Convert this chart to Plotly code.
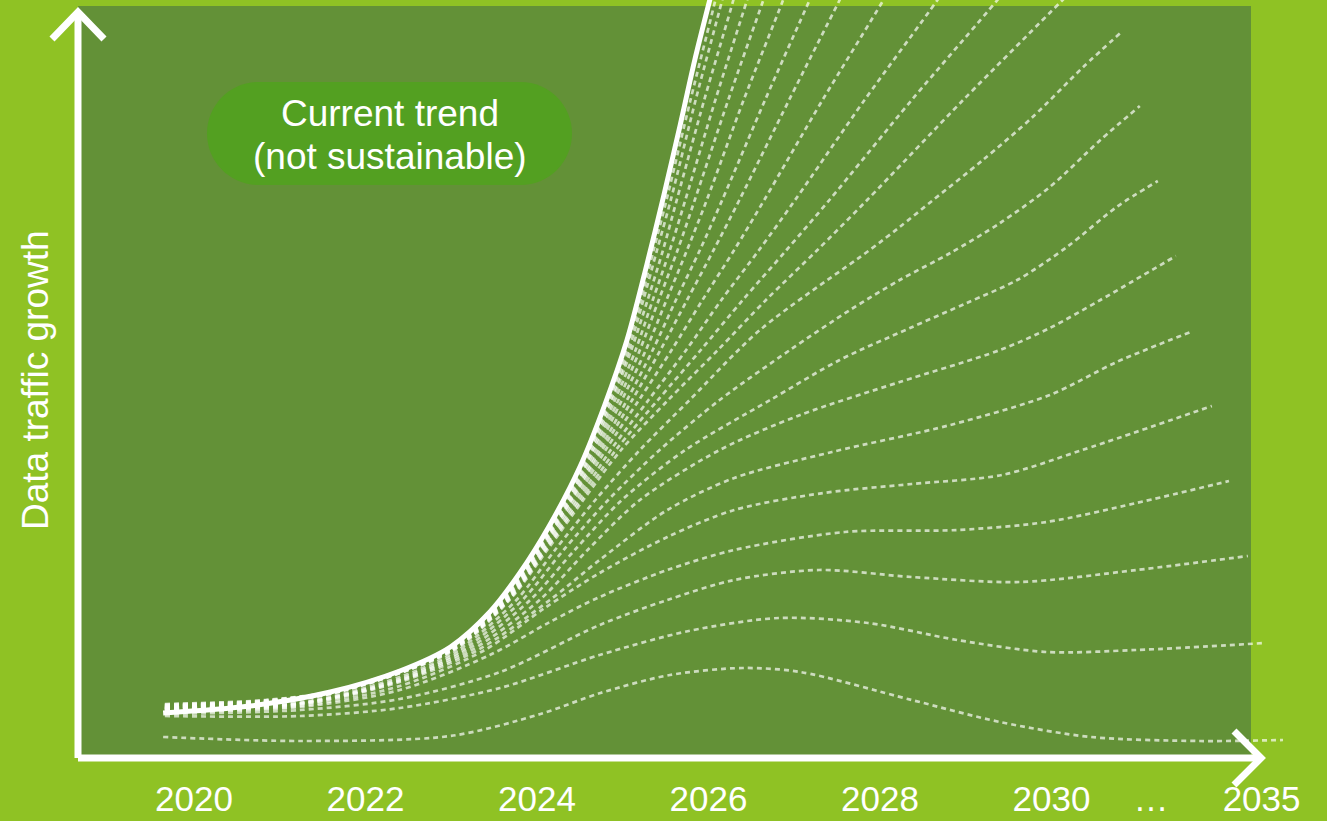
import plotly.graph_objects as go

# ------------------------------------------------------------------ data
TICK_YEARS = [2020, 2022, 2024, 2026, 2028, 2030, 2031.16, 2032.45]
TICK_TEXT = ["2020", "2022", "2024", "2026", "2028", "2030", "…", "2035"]

# current (unsustainable) trend
CURRENT_X = [2019.64, 2020.65, 2021.59, 2022.40, 2022.99, 2023.45, 2023.80, 2024.15, 2024.50,
             2024.79, 2025.05, 2025.28, 2025.48, 2025.67, 2025.84, 2026.03, 2026.09]
CURRENT_Y = [8.8, 10.2, 13.0, 17.2, 22.0, 29.0, 36.8, 46.4, 58.0,
             70.4, 83.4, 98.4, 112.4, 126.4, 139.4, 152.4, 156.4]

# fast-growth scenarios: two early points, then the year each one reaches the shared growth levels
EARLY_X = [2019.66, 2020.83]
LEVELS = [13.4, 21.4, 31.4, 41.4, 51.4, 61.4, 71.4, 81.4, 91.4, 101.4, 111.4, 131.4, 151.4, 157.4]

T12_EARLY, T12 = [10.6, 11.40], [2021.68, 2022.93, 2023.57, 2023.98, 2024.32, 2024.60, 2024.84, 2025.04, 2025.21, 2025.36, 2025.51, 2025.79, 2026.08, 2026.16]
T11_EARLY, T11 = [10.5, 11.32], [2021.69, 2022.94, 2023.58, 2023.99, 2024.33, 2024.61, 2024.86, 2025.07, 2025.24, 2025.40, 2025.56, 2025.85, 2026.16, 2026.25]
T10_EARLY, T10 = [10.4, 11.24], [2021.70, 2022.95, 2023.59, 2024.00, 2024.34, 2024.63, 2024.88, 2025.10, 2025.29, 2025.47, 2025.63, 2025.95, 2026.29, 2026.38]
T9_EARLY, T9 = [10.3, 11.16], [2021.71, 2022.96, 2023.60, 2024.01, 2024.36, 2024.65, 2024.91, 2025.15, 2025.35, 2025.55, 2025.73, 2026.08, 2026.45, 2026.56]
T8_EARLY, T8 = [10.2, 11.08], [2021.72, 2022.96, 2023.61, 2024.02, 2024.37, 2024.67, 2024.95, 2025.20, 2025.42, 2025.64, 2025.84, 2026.23, 2026.64, 2026.76]
T7_EARLY, T7 = [10.1, 11.00], [2021.73, 2022.97, 2023.62, 2024.03, 2024.39, 2024.70, 2024.99, 2025.27, 2025.51, 2025.75, 2025.98, 2026.41, 2026.87, 2027.00]
T6_EARLY, T6 = [10.0, 10.92], [2021.74, 2022.98, 2023.63, 2024.04, 2024.40, 2024.73, 2025.05, 2025.35, 2025.62, 2025.90, 2026.16, 2026.66, 2027.18, 2027.34]
T5_EARLY, T5 = [9.9, 10.84], [2021.75, 2022.99, 2023.64, 2024.06, 2024.42, 2024.76, 2025.11, 2025.44, 2025.75, 2026.06, 2026.36, 2026.94, 2027.53, 2027.71]
T4_EARLY, T4 = [9.8, 10.76], [2021.75, 2023.00, 2023.65, 2024.07, 2024.45, 2024.80, 2025.19, 2025.57, 2025.93, 2026.30, 2026.65, 2027.33, 2028.04, 2028.24]
T3_EARLY, T3 = [9.7, 10.68], [2021.76, 2023.01, 2023.66, 2024.09, 2024.48, 2024.86, 2025.30, 2025.74, 2026.15, 2026.59, 2027.01, 2027.82, 2028.67, 2028.91]
T2_EARLY, T2 = [9.6, 10.60], [2021.77, 2023.02, 2023.67, 2024.10, 2024.51, 2024.92, 2025.41, 2025.91, 2026.40, 2026.91, 2027.41, 2028.37, 2029.37, 2029.66]
T1_EARLY, T1 = [9.5, 10.52], [2021.78, 2023.03, 2023.68, 2024.12, 2024.54, 2024.98, 2025.53, 2026.11, 2026.67, 2027.27, 2027.85, 2028.97, 2030.13, 2030.48]

# scenarios that bend over before leaving the panel
C10_X = [2019.66, 2021.24, 2022.40, 2023.08, 2023.76, 2024.21, 2024.68, 2025.20, 2025.78, 2026.60, 2027.88, 2028.23, 2028.62, 2029.20, 2029.78, 2030.37, 2030.83]
C10_Y = [10.0, 10.9, 16.0, 21.4, 31.4, 41.4, 51.4, 61.4, 71.4, 85.4, 101.4, 106.0, 111.4, 119.4, 128.0, 138.0, 145.2]
C9_X = [2019.66, 2021.24, 2022.40, 2023.13, 2023.83, 2024.31, 2024.83, 2025.43, 2026.13, 2026.95, 2027.65, 2028.23, 2028.82, 2029.40, 2029.98, 2030.57, 2031.03]
C9_Y = [9.8, 10.8, 15.6, 21.4, 31.4, 41.4, 51.4, 61.4, 71.4, 81.4, 89.4, 95.4, 100.8, 106.8, 114.0, 123.4, 130.2]
C8_X = [2019.66, 2021.24, 2022.40, 2023.18, 2023.92, 2024.44, 2024.99, 2025.73, 2026.72, 2027.53, 2028.35, 2029.01, 2029.60, 2030.18, 2030.76, 2031.24]
C8_Y = [9.6, 10.7, 15.4, 21.4, 31.4, 41.4, 51.4, 61.4, 71.4, 79.4, 85.8, 90.8, 95.4, 102.0, 110.0, 115.2]
C7_X = [2019.66, 2021.24, 2022.40, 2023.24, 2024.03, 2024.59, 2025.20, 2026.13, 2027.07, 2028.23, 2029.40, 2029.98, 2030.57, 2031.45]
C7_Y = [9.5, 10.6, 15.2, 21.4, 31.4, 41.4, 51.4, 61.4, 68.4, 75.0, 81.4, 85.8, 91.4, 100.2]
C6_X = [2019.66, 2021.24, 2022.40, 2023.31, 2024.15, 2024.73, 2025.52, 2026.30, 2027.44, 2028.82, 2029.98, 2030.76, 2031.65]
C6_Y = [9.4, 10.5, 15.0, 21.4, 31.4, 39.4, 49.4, 55.8, 61.0, 66.4, 72.4, 79.0, 85.2]
C5_X = [2019.66, 2021.24, 2022.40, 2023.39, 2024.09, 2024.73, 2025.52, 2026.30, 2027.34, 2028.37, 2029.42, 2030.36, 2031.87]
C5_Y = [9.2, 10.2, 14.2, 21.4, 29.8, 36.8, 44.0, 49.4, 52.8, 54.6, 56.4, 61.4, 70.2]
C4_X = [2019.66, 2021.24, 2022.40, 2023.45, 2024.15, 2024.73, 2025.52, 2026.30, 2027.59, 2028.90, 2029.94, 2030.99, 2032.07]
C4_Y = [9.0, 10.0, 13.4, 20.4, 27.0, 32.0, 37.4, 41.4, 45.0, 45.4, 47.0, 50.8, 55.2]
C3_X = [2019.66, 2021.24, 2022.40, 2023.57, 2024.73, 2025.52, 2026.30, 2027.29, 2028.37, 2029.63, 2030.99, 2032.29]
C3_Y = [8.6, 9.4, 11.6, 17.0, 26.4, 31.4, 35.4, 37.4, 36.0, 35.0, 37.4, 40.2]
C2_X = [2019.66, 2021.24, 2022.40, 2023.57, 2024.73, 2025.77, 2026.82, 2027.86, 2028.90, 2029.94, 2030.99, 2032.49]
C2_Y = [8.2, 8.2, 9.8, 13.8, 20.4, 25.2, 27.8, 26.8, 23.4, 21.0, 21.4, 22.8]
C1_X = [2019.64, 2021.24, 2022.99, 2024.04, 2024.74, 2025.55, 2026.40, 2027.07, 2028.37, 2029.40, 2030.46, 2031.73, 2032.70]
C1_Y = [4.0, 3.2, 4.2, 8.6, 12.8, 16.4, 17.8, 17.0, 11.4, 7.0, 4.0, 3.2, 3.4]

# ------------------------------------------------------------------ layout geometry
W, H = 1327, 821
ML, MR, MT, MB = 78, 0, 0, 63
PW, PH = W - ML - MR, H - MT - MB
PX_PER_YEAR = 85.75
PX_PER_UNIT = 5.0
X0 = 2020 - (194 - ML) / PX_PER_YEAR
X1 = X0 + PW / PX_PER_YEAR
Y0 = -0.2
Y1 = Y0 + PH / PX_PER_UNIT

LIGHT = "#8fc224"
DARK = "#639137"
PILL = "#53a021"
FONT = "Liberation Sans, Arial, sans-serif"


def pp(px, py):
    return f"{(px - ML) / PW:.5f},{(H - MB - py) / PH:.5f}"


def fx(px):
    return (px - ML) / PW


def fy(py):
    return (H - MB - py) / PH


fig = go.Figure()
dot = dict(color="rgba(255,255,255,0.68)", width=2.7, dash="5px,4px", shape="spline", smoothing=0.85)

fast = [(T12_EARLY, T12), (T11_EARLY, T11), (T10_EARLY, T10), (T9_EARLY, T9), (T8_EARLY, T8),
        (T7_EARLY, T7), (T6_EARLY, T6), (T5_EARLY, T5), (T4_EARLY, T4), (T3_EARLY, T3),
        (T2_EARLY, T2), (T1_EARLY, T1)]
for early, yrs in fast:
    fig.add_trace(go.Scatter(x=EARLY_X + yrs, y=early + LEVELS[:len(yrs)], mode="lines",
                             line=dot, hoverinfo="skip", showlegend=False))

for xs, ys in [(C10_X, C10_Y), (C9_X, C9_Y), (C8_X, C8_Y), (C7_X, C7_Y), (C6_X, C6_Y),
               (C5_X, C5_Y), (C4_X, C4_Y), (C3_X, C3_Y), (C2_X, C2_Y), (C1_X, C1_Y)]:
    fig.add_trace(go.Scatter(x=xs, y=ys, mode="lines", line=dot, hoverinfo="skip", showlegend=False))

fig.add_trace(go.Scatter(x=CURRENT_X, y=CURRENT_Y, mode="lines",
                         line=dict(color="white", width=5, shape="spline", smoothing=0.85),
                         hoverinfo="skip", showlegend=False))

# ------------------------------------------------------------------ decorations
shapes = [dict(type="rect", xref="paper", yref="paper", layer="below",
               x0=fx(78), x1=fx(1251), y0=fy(758), y1=fy(6),
               fillcolor=DARK, line=dict(width=0))]
axis_line = dict(color="white", width=7)
for path in [f"M{pp(78, 758)} L{pp(78, 12)}",
             f"M{pp(52, 39)} L{pp(78, 12)} L{pp(104, 39)}",
             f"M{pp(78, 758)} L{pp(1260, 758)}",
             f"M{pp(1234, 731)} L{pp(1261, 758)} L{pp(1234, 785)}"]:
    shapes.append(dict(type="path", xref="paper", yref="paper", layer="above", path=path, line=axis_line))

bx0, bx1, by0, by1 = 207, 572, 82, 185
r = (by1 - by0) / 2
cy = (by0 + by1) / 2
k = 0.5523 * r
pill = (f"M{pp(bx0 + r, by0)} L{pp(bx1 - r, by0)} "
        f"C{pp(bx1 - r + k, by0)} {pp(bx1, cy - k)} {pp(bx1, cy)} "
        f"C{pp(bx1, cy + k)} {pp(bx1 - r + k, by1)} {pp(bx1 - r, by1)} "
        f"L{pp(bx0 + r, by1)} "
        f"C{pp(bx0 + r - k, by1)} {pp(bx0, cy + k)} {pp(bx0, cy)} "
        f"C{pp(bx0, cy - k)} {pp(bx0 + r - k, by0)} {pp(bx0 + r, by0)} Z")
shapes.append(dict(type="path", xref="paper", yref="paper", layer="above",
                   path=pill, fillcolor=PILL, line=dict(width=0)))

annotations = [
    dict(text="Current trend", xref="paper", yref="paper", x=fx(390), y=fy(113),
         xanchor="center", yanchor="middle", showarrow=False,
         font=dict(family=FONT, size=37, color="white")),
    dict(text="(not sustainable)", xref="paper", yref="paper", x=fx(390), y=fy(157),
         xanchor="center", yanchor="middle", showarrow=False,
         font=dict(family=FONT, size=37, color="white")),
    dict(text="Data traffic growth", xref="paper", yref="paper", textangle=-90,
         x=fx(35), y=fy(380), xanchor="center", yanchor="middle", showarrow=False,
         font=dict(family=FONT, size=37, color="white")),
]

fig.update_layout(
    width=W, height=H,
    margin=dict(l=ML, r=MR, t=MT, b=MB, pad=0),
    paper_bgcolor=LIGHT, plot_bgcolor=LIGHT,
    shapes=shapes, annotations=annotations, showlegend=False,
    font=dict(family=FONT, color="white"),
    xaxis=dict(range=[X0, X1], showgrid=False, zeroline=False, showline=False,
               ticks="", tickvals=TICK_YEARS, ticktext=TICK_TEXT,
               tickfont=dict(family=FONT, size=35, color="white"),
               ticklabelstandoff=17, automargin=False, fixedrange=True),
    yaxis=dict(range=[Y0, Y1], showgrid=False, zeroline=False, showline=False,
               showticklabels=False, ticks="", automargin=False, fixedrange=True),
)

fig.write_html("out.html", config={"displayModeBar": False},
               post_script="document.body.style.margin='0px';document.body.style.overflow='hidden';")
